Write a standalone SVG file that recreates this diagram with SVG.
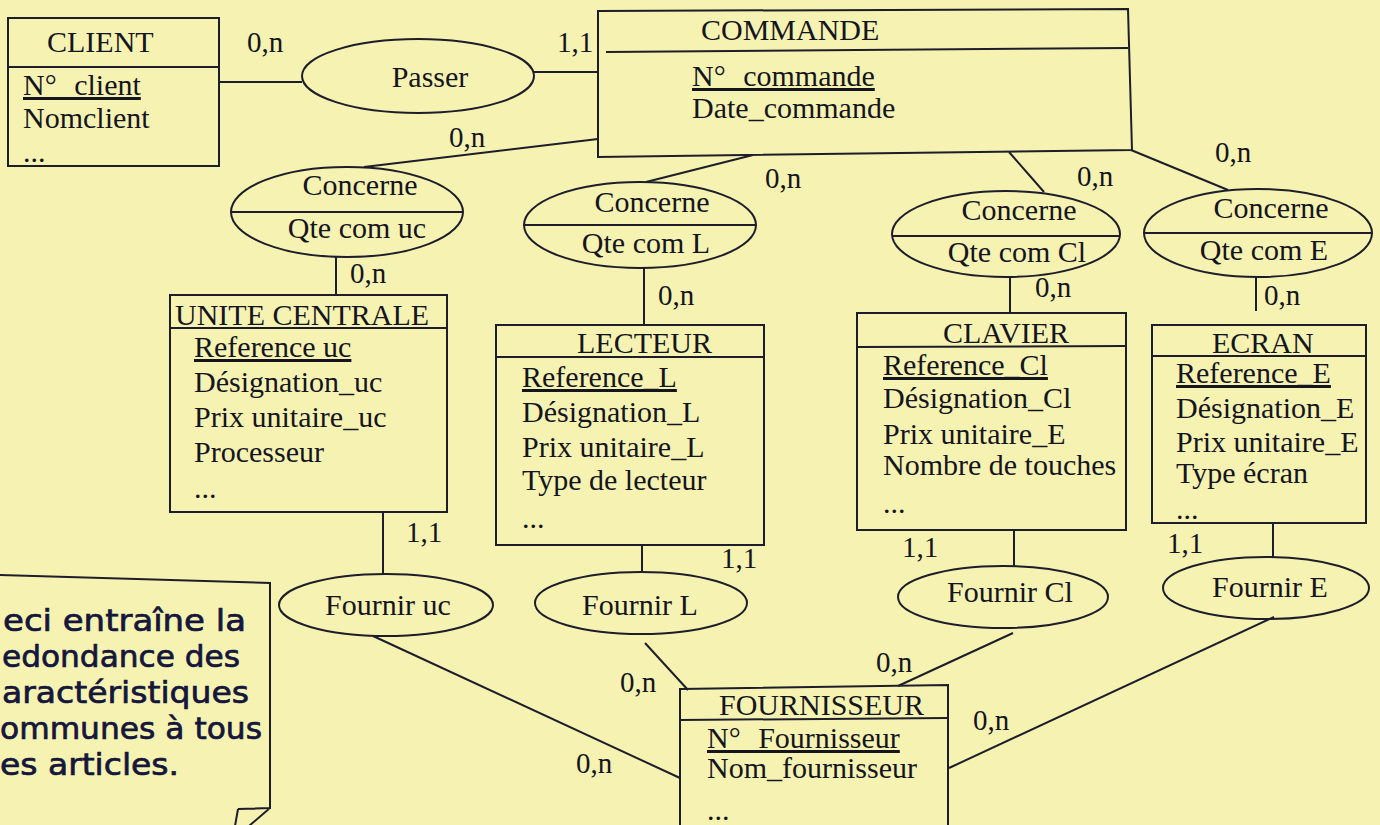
<svg xmlns="http://www.w3.org/2000/svg" width="1380" height="825" viewBox="0 0 1380 825">
<style>
.bg{fill:#f6f3b2}
.box{fill:none;stroke:#1d1d2b;stroke-width:2}
.ln{stroke:#1d1d2b;stroke-width:2;fill:none}
.t{font-family:"Liberation Serif","Times New Roman",serif;font-size:30px;fill:#15151f}
.c{font-family:"Liberation Serif","Times New Roman",serif;font-size:29px;fill:#15151f}
.m{text-anchor:middle}
.u{text-decoration:underline}
.note{font-family:"DejaVu Sans","Comic Sans MS",sans-serif;font-size:30px;fill:#15163c;stroke:#15163c;stroke-width:0.7}
</style>
<rect class="bg" x="0" y="0" width="1380" height="825"/>

<g id="connectors">
<line class="ln" x1="219" y1="82" x2="302" y2="82"/>
<line class="ln" x1="534" y1="72" x2="598" y2="72"/>
<line class="ln" x1="598" y1="139" x2="364" y2="167"/>
<line class="ln" x1="753" y1="155" x2="646" y2="182"/>
<line class="ln" x1="1009" y1="152" x2="1044" y2="192"/>
<line class="ln" x1="1131" y1="150" x2="1228" y2="190"/>
<line class="ln" x1="336" y1="257" x2="336" y2="295"/>
<line class="ln" x1="644" y1="268" x2="644" y2="325"/>
<line class="ln" x1="1010" y1="277" x2="1010" y2="313"/>
<line class="ln" x1="1256" y1="277" x2="1256" y2="311"/>
<line class="ln" x1="383" y1="512" x2="383" y2="574"/>
<line class="ln" x1="642" y1="545" x2="642" y2="572"/>
<line class="ln" x1="1014" y1="530" x2="1014" y2="566"/>
<line class="ln" x1="1273" y1="523" x2="1273" y2="557"/>
<line class="ln" x1="373" y1="636" x2="680" y2="778"/>
<line class="ln" x1="645" y1="643" x2="688" y2="690"/>
<line class="ln" x1="1013" y1="633" x2="898" y2="686"/>
<line class="ln" x1="1274" y1="617" x2="949" y2="768"/>
</g>

<g id="cards">
<text class="c" x="247" y="52">0,n</text>
<text class="c" x="557" y="52">1,1</text>
<text class="c" x="449" y="147">0,n</text>
<text class="c" x="765" y="188">0,n</text>
<text class="c" x="1077" y="186">0,n</text>
<text class="c" x="1215" y="162">0,n</text>
<text class="c" x="350" y="283">0,n</text>
<text class="c" x="658" y="305">0,n</text>
<text class="c" x="1035" y="297">0,n</text>
<text class="c" x="1264" y="305">0,n</text>
<text class="c" x="406" y="542">1,1</text>
<text class="c" x="721" y="568">1,1</text>
<text class="c" x="902" y="557">1,1</text>
<text class="c" x="1167" y="553">1,1</text>
<text class="c" x="576" y="773">0,n</text>
<text class="c" x="620" y="692">0,n</text>
<text class="c" x="876" y="672">0,n</text>
<text class="c" x="973" y="730">0,n</text>
</g>

<g id="client">
<rect class="box" x="8" y="18" width="211" height="148"/>
<line class="ln" x1="8" y1="67" x2="219" y2="67"/>
<text class="t" x="47" y="52">CLIENT</text>
<text class="t u" x="23" y="95" style="word-spacing:10px">N° client</text>
<text class="t" x="23" y="128">Nomclient</text>
<text class="t" x="23" y="162">...</text>
</g>

<g id="passer">
<ellipse class="box" cx="418" cy="76" rx="116" ry="37"/>
<text class="t m" x="430" y="87">Passer</text>
</g>

<g id="commande">
<polygon class="box" points="598,11 1128,9 1132,150 598,157"/>
<line class="ln" x1="606" y1="52" x2="1128" y2="48"/>
<text class="t" x="701" y="40">COMMANDE</text>
<text class="t u" x="692" y="86" style="word-spacing:10px">N° commande</text>
<text class="t" x="692" y="118">Date_commande</text>
</g>

<g id="concerne-uc">
<ellipse class="box" cx="347" cy="212" rx="116" ry="45"/>
<line class="ln" x1="231" y1="212" x2="463" y2="212"/>
<text class="t m" x="360" y="195">Concerne</text>
<text class="t m" x="357" y="238">Qte com uc</text>
</g>

<g id="concerne-l">
<ellipse class="box" cx="640" cy="225" rx="116" ry="43"/>
<line class="ln" x1="524" y1="225" x2="756" y2="225"/>
<text class="t m" x="652" y="212">Concerne</text>
<text class="t m" x="646" y="253">Qte com L</text>
</g>

<g id="concerne-cl">
<ellipse class="box" cx="1006" cy="234" rx="114" ry="43"/>
<line class="ln" x1="892" y1="236" x2="1120" y2="236"/>
<text class="t m" x="1019" y="220">Concerne</text>
<text class="t m" x="1017" y="262">Qte com Cl</text>
</g>

<g id="concerne-e">
<ellipse class="box" cx="1258" cy="233" rx="114" ry="44"/>
<line class="ln" x1="1144" y1="233" x2="1372" y2="233"/>
<text class="t m" x="1271" y="218">Concerne</text>
<text class="t m" x="1264" y="260">Qte com E</text>
</g>

<g id="unite-centrale">
<rect class="box" x="170" y="295" width="277" height="217"/>
<line class="ln" x1="170" y1="328" x2="447" y2="328"/>
<text class="t" x="175" y="325">UNITE CENTRALE</text>
<text class="t u" x="194" y="357">Reference uc</text>
<text class="t" x="194" y="392">Désignation_uc</text>
<text class="t" x="194" y="427">Prix unitaire_uc</text>
<text class="t" x="194" y="462">Processeur</text>
<text class="t" x="194" y="498">...</text>
</g>

<g id="lecteur">
<rect class="box" x="496" y="325" width="268" height="220"/>
<line class="ln" x1="496" y1="357" x2="764" y2="357"/>
<text class="t" x="577" y="353">LECTEUR</text>
<text class="t u" x="522" y="387">Reference_L</text>
<text class="t" x="522" y="422">Désignation_L</text>
<text class="t" x="522" y="457">Prix unitaire_L</text>
<text class="t" x="522" y="490">Type de lecteur</text>
<text class="t" x="522" y="528">...</text>
</g>

<g id="clavier">
<rect class="box" x="857" y="313" width="269" height="217"/>
<line class="ln" x1="857" y1="347" x2="1126" y2="346"/>
<text class="t" x="943" y="343">CLAVIER</text>
<text class="t u" x="883" y="375">Reference_Cl</text>
<text class="t" x="883" y="408">Désignation_Cl</text>
<text class="t" x="883" y="444">Prix unitaire_E</text>
<text class="t" x="883" y="475">Nombre de touches</text>
<text class="t" x="883" y="513">...</text>
</g>

<g id="ecran">
<rect class="box" x="1152" y="325" width="214" height="198"/>
<line class="ln" x1="1152" y1="356" x2="1366" y2="356"/>
<text class="t" x="1212" y="353">ECRAN</text>
<text class="t u" x="1176" y="383">Reference_E</text>
<text class="t" x="1176" y="418">Désignation_E</text>
<text class="t" x="1176" y="452">Prix unitaire_E</text>
<text class="t" x="1176" y="483">Type écran</text>
<text class="t" x="1176" y="519">...</text>
</g>

<g id="fournir-uc">
<ellipse class="box" cx="386" cy="605" rx="107" ry="31"/>
<text class="t m" x="388" y="615">Fournir uc</text>
</g>
<g id="fournir-l">
<ellipse class="box" cx="641" cy="603" rx="106" ry="31"/>
<text class="t m" x="640" y="615">Fournir L</text>
</g>
<g id="fournir-cl">
<ellipse class="box" cx="1003" cy="597" rx="105" ry="31"/>
<text class="t m" x="1010" y="602">Fournir Cl</text>
</g>
<g id="fournir-e">
<ellipse class="box" cx="1266" cy="588" rx="103" ry="31"/>
<text class="t m" x="1270" y="597">Fournir E</text>
</g>

<g id="fournisseur">
<polygon class="box" points="680,689 948,685 948,832 680,832"/>
<line class="ln" x1="680" y1="720" x2="948" y2="718"/>
<text class="t" x="719" y="715">FOURNISSEUR</text>
<text class="t u" x="707" y="748" style="word-spacing:10px">N° Fournisseur</text>
<text class="t" x="707" y="778">Nom_fournisseur</text>
<text class="t" x="707" y="820">...</text>
</g>

<g id="note">
<path class="ln" d="M0,575 L270,583 L270,808 L238,809 M270,808 L249,826 M238,809 L235,826"/>
<text class="note" x="3" y="631" textLength="243" lengthAdjust="spacingAndGlyphs">eci entraîne la</text>
<text class="note" x="2" y="667" textLength="238" lengthAdjust="spacingAndGlyphs">edondance des</text>
<text class="note" x="2" y="703" textLength="247" lengthAdjust="spacingAndGlyphs">aractéristiques</text>
<text class="note" x="0" y="739" textLength="262" lengthAdjust="spacingAndGlyphs">ommunes à tous</text>
<text class="note" x="0" y="775" textLength="179" lengthAdjust="spacingAndGlyphs">es articles.</text>
</g>
</svg>
